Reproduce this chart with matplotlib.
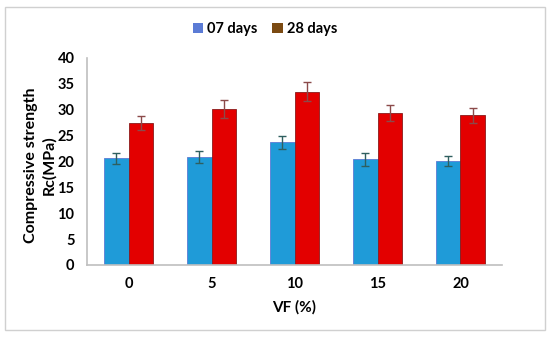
import numpy as np
import matplotlib
matplotlib.use("Agg")
import matplotlib.pyplot as plt
from matplotlib.patches import Rectangle, Patch

# data
vf_labels = ["0", "5", "10", "15", "20"]
days07 = [20.6, 20.9, 23.7, 20.4, 20.1]
days28 = [27.4, 30.2, 33.5, 29.4, 28.9]
err07 = [1.1, 1.2, 1.3, 1.2, 1.0]
err28 = [1.4, 1.7, 1.8, 1.5, 1.5]

plt.rcParams["font.family"] = ["Lato", "DejaVu Sans"]
plt.rcParams["font.weight"] = "bold"

fig = plt.figure(figsize=(5.5, 3.37), dpi=100)
ax = fig.add_axes([87/550, 1-265/337, 415/550, 207/337])

# outer frame like the spreadsheet chart area
fig.patches.append(Rectangle((5/550, 7/337), 540/550, 323/337, transform=fig.transFigure,
                             fill=False, edgecolor="#d0d0d0", lw=1))

x = np.arange(len(vf_labels))
w = 0.29
ax.bar(x - w/2, days07, w, color="#1f9bd8", edgecolor="#5b7bd5", lw=0.6,
       yerr=err07, error_kw=dict(ecolor="#2f5f5f", elinewidth=1, capsize=3, capthick=1))
ax.bar(x + w/2, days28, w, color="#e30000", edgecolor="#8b1a1a", lw=0.6,
       yerr=err28, error_kw=dict(ecolor="#8b4a4a", elinewidth=1, capsize=3, capthick=1))

ax.set_xlim(-0.5, 4.5)
ax.set_ylim(0, 40)
ax.set_yticks(range(0, 41, 5))
ax.set_xticks(x)
ax.set_xticklabels(vf_labels)
ax.tick_params(length=0, labelsize=10.5, pad=9)
ax.tick_params(axis="x", pad=9)
for s in ["top", "right"]:
    ax.spines[s].set_visible(False)
for s in ["left", "bottom"]:
    ax.spines[s].set_color("#bfbfbf")
    ax.spines[s].set_linewidth(1.2)

ax.set_xlabel("VF (%)", fontsize=11, fontweight="bold", labelpad=6)
fig.text(40/550, 1-165/337, "Compressive strength\nRc(MPa)", rotation=90,
         ha="center", va="center", fontsize=11.5, fontweight="bold", linespacing=1.3)

handles = [Patch(facecolor="#5b7bd5", label="07 days"),
           Patch(facecolor="#7b4a12", label="28 days")]
fig.legend(handles=handles, loc="center", bbox_to_anchor=(265/550, 1-29/337), ncol=2,
           frameon=False, fontsize=10.5, handlelength=0.7, handleheight=0.7,
           handletextpad=0.3, columnspacing=1.0)

fig.savefig("out.png", dpi=100)
